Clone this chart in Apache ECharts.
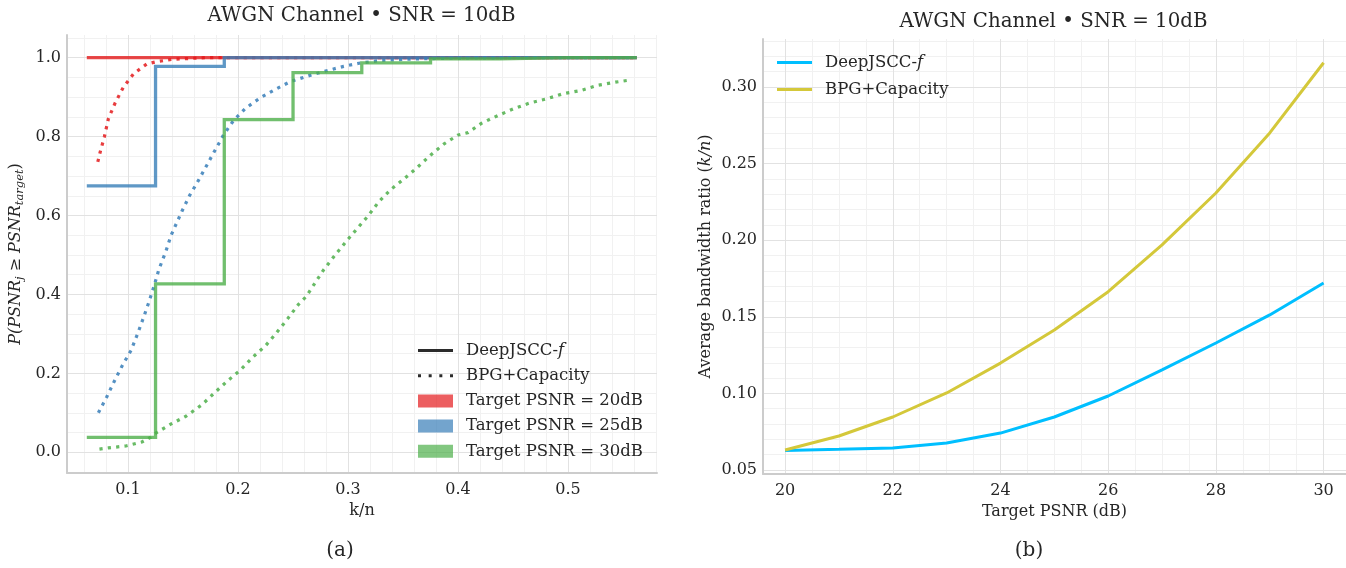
<!DOCTYPE html>
<html><head><meta charset="utf-8">
<script src="https://cdn.jsdelivr.net/npm/echarts@6/dist/echarts.min.js"></script>
<style>html,body{margin:0;padding:0;background:#fff}#c{width:1346px;height:568px}</style>
</head><body><div id="c"></div><script>
// ---------- Data: panel (a) ----------
const stepX = [0.0625, 0.125, 0.1875, 0.25, 0.3125, 0.375, 0.4375, 0.5, 0.5625];
const deep20 = [1, 1, 1, 1, 1, 1, 1, 1, 1];
const deep25 = [0.675, 0.978, 1, 1, 1, 1, 1, 1, 1];
const deep30 = [0.038, 0.427, 0.843, 0.962, 0.987, 0.997, 1, 1, 1];
const bpg20 = [[0.0725,0.736],[0.0745,0.759],[0.0785,0.80],[0.0821,0.845],[0.0882,0.885],[0.0957,0.925],[0.105,0.959],[0.117,0.984],[0.126,0.99],[0.141,0.996],[0.17,1.0],[0.25,1.0],[0.35,1.0],[0.45,1.0],[0.56,1.0]];
const bpg25 = [[0.073,0.10],[0.0806,0.14],[0.0875,0.18],[0.0948,0.22],[0.1027,0.258],[0.1085,0.299],[0.114,0.341],[0.119,0.381],[0.1236,0.421],[0.128,0.463],[0.1345,0.51],[0.139,0.549],[0.149,0.611],[0.156,0.651],[0.164,0.689],[0.1715,0.727],[0.179,0.765],[0.187,0.805],[0.196,0.841],[0.207,0.872],[0.22,0.898],[0.234,0.92],[0.248,0.94],[0.264,0.954],[0.278,0.965],[0.296,0.978],[0.31,0.986],[0.33,0.993],[0.36,0.997],[0.4,0.999],[0.45,1.0],[0.56,1.0]];
const bpg30 = [[0.074,0.008],[0.082,0.011],[0.098,0.016],[0.1125,0.026],[0.12,0.037],[0.126,0.05],[0.14,0.073],[0.153,0.092],[0.167,0.12],[0.178,0.149],[0.19,0.18],[0.202,0.208],[0.213,0.24],[0.225,0.27],[0.235,0.303],[0.245,0.338],[0.255,0.375],[0.262,0.395],[0.269,0.425],[0.278,0.463],[0.288,0.499],[0.3,0.54],[0.3185,0.6],[0.328,0.635],[0.339,0.666],[0.351,0.693],[0.363,0.722],[0.375,0.753],[0.387,0.781],[0.4,0.804],[0.409,0.81],[0.4215,0.834],[0.436,0.853],[0.45,0.87],[0.465,0.885],[0.481,0.896],[0.496,0.909],[0.512,0.917],[0.527,0.93],[0.543,0.938],[0.558,0.944]];
// ---------- Data: panel (b) ----------
const targetPsnr = [20, 21, 22, 23, 24, 25, 26, 27, 28, 29, 30];
const deepBw = [0.0628, 0.0635, 0.0643, 0.0676, 0.0741, 0.0846, 0.0983, 0.1153, 0.1329, 0.1512, 0.1721];
const bpgBw  = [0.0631, 0.0722, 0.0846, 0.1003, 0.1198, 0.1414, 0.1664, 0.1969, 0.2308, 0.2700, 0.3158];
// ---------- Labels ----------
const titleA = 'AWGN Channel \u2022 SNR = 10dB';
const titleB = 'AWGN Channel \u2022 SNR = 10dB';
const targetNames = ['Target PSNR = 20dB', 'Target PSNR = 25dB', 'Target PSNR = 30dB'];

const FONT = 'DejaVu Serif';
const TXT = '#262626';
const COLORS = [[228,26,28],[55,126,184],[77,175,74]];
const rgba = (c, a) => `rgba(${c[0]},${c[1]},${c[2]},${a})`;
const MAJOR = '#e2e2e2', MINOR = '#f1f1f1';

function range(a, b, s) { const out = []; for (let v = a; v <= b + 1e-9; v += s) out.push(+v.toFixed(6)); return out; }
function isMult(v, m) { const r = v / m; return Math.abs(r - Math.round(r)) < 1e-6; }

function gridSeries(xi, xs, ys, color) {
  return {
    type: 'line', xAxisIndex: xi, yAxisIndex: xi, data: [], z: 0, zlevel: 0, silent: true, legendHoverLink: false,
    markLine: {
      z: 0, zlevel: 0,
      silent: true, symbol: ['none', 'none'], animation: false,
      label: { show: false }, emphasis: { disabled: true },
      lineStyle: { color: color, width: 1, type: 'solid' },
      data: xs.map(v => ({ xAxis: v })).concat(ys.map(v => ({ yAxis: v })))
    }
  };
}

// grid line positions (tick positions of each axis)
const aXMaj = range(0.1, 0.5, 0.1), aYMaj = range(0, 1, 0.2);
const aXMin = range(0.06, 0.58, 0.02).filter(v => !isMult(v, 0.1));
const aYMin = range(0.05, 1.05, 0.05).filter(v => !isMult(v, 0.2));
const bXMaj = range(20, 30, 2), bYMaj = range(0.05, 0.30, 0.05);
const bXMin = range(20, 30, 0.5).filter(v => !isMult(v, 2));
const bYMin = range(0.05, 0.33, 0.01).filter(v => !isMult(v, 0.05));

const tickLabel = { color: TXT, fontFamily: FONT, fontSize: 16 };

const series = [
  gridSeries(0, aXMin, aYMin, MINOR),
  gridSeries(0, aXMaj, aYMaj, MAJOR),
  gridSeries(1, bXMin, bYMin, MINOR),
  gridSeries(1, bXMaj, bYMaj, MAJOR)
];
const deepSets = [deep20, deep25, deep30];
const bpgSets = [bpg20, bpg25, bpg30];
for (let i = 0; i < 3; i++) {
  series.push({
    name: 'DeepJSCC-f ' + targetNames[i], type: 'line', xAxisIndex: 0, yAxisIndex: 0, step: 'end', z: 3,
    showSymbol: false, symbol: 'none', silent: true,
    data: stepX.map((x, k) => [x, deepSets[i][k]]),
    itemStyle: { color: rgba(COLORS[i], 0.8) },
    lineStyle: { color: rgba(COLORS[i], 0.8), width: 3.3, cap: 'butt', join: 'miter' }
  });
  series.push({
    name: 'BPG+Capacity ' + targetNames[i], type: 'line', xAxisIndex: 0, yAxisIndex: 0, z: 3,
    showSymbol: false, symbol: 'none', silent: true, smooth: false,
    data: bpgSets[i],
    itemStyle: { color: rgba(COLORS[i], 0.8) },
    lineStyle: { color: rgba(COLORS[i], 0.85), width: 3.2, type: [3.2, 5.2], cap: 'butt' }
  });
}
// legend-only entries for panel (a)
series.push({ name: 'legA_deep', type: 'line', xAxisIndex: 0, yAxisIndex: 0, data: [], symbol: 'none',
  itemStyle: { color: '#2b2b2b' }, lineStyle: { color: '#2b2b2b', width: 3 } });
series.push({ name: 'legA_bpg', type: 'line', xAxisIndex: 0, yAxisIndex: 0, data: [], symbol: 'none',
  itemStyle: { color: '#2b2b2b' }, lineStyle: { color: '#2b2b2b', width: 3 } });
for (let i = 0; i < 3; i++) {
  series.push({ name: targetNames[i], type: 'bar', xAxisIndex: 0, yAxisIndex: 0, data: [],
    itemStyle: { color: rgba(COLORS[i], 0.7) } });
}
// panel (b)
series.push({ name: 'legB_deep', type: 'line', xAxisIndex: 1, yAxisIndex: 1, z: 3, symbol: 'none', showSymbol: false, silent: true,
  data: targetPsnr.map((x, k) => [x, deepBw[k]]),
  itemStyle: { color: '#00bfff' }, lineStyle: { color: '#00bfff', width: 3 } });
series.push({ name: 'legB_bpg', type: 'line', xAxisIndex: 1, yAxisIndex: 1, z: 3, symbol: 'none', showSymbol: false, silent: true,
  data: targetPsnr.map((x, k) => [x, bpgBw[k]]),
  itemStyle: { color: '#d4c83a' }, lineStyle: { color: '#d4c83a', width: 3 } });

function legFmt(name) {
  if (name === 'legA_deep' || name === 'legB_deep') return '{n|DeepJSCC-}{it|f}';
  if (name === 'legA_bpg' || name === 'legB_bpg') return '{n|BPG+Capacity}';
  return '{n|' + name + '}';
}
const LFS = 16.5;
const legRich = {
  n: { fontFamily: FONT, fontSize: LFS, color: TXT, lineHeight: 16 },
  it: { fontFamily: FONT, fontSize: LFS, color: TXT, fontStyle: 'italic', lineHeight: 16 }
};
const ICON_SOLID = 'path://M0,0H35V3H0Z';
const ICON_DOT = 'path://M0,0H3V3H0Z M10.67,0H13.67V3H10.67Z M21.33,0H24.33V3H21.33Z M32,0H35V3H32Z';

const axisLineStyle = { show: true, onZero: false, lineStyle: { color: '#cccccc', width: 2 } };

const option = {
  animation: false,
  backgroundColor: '#ffffff',
  grid: [
    { left: 67, top: 35, width: 590, height: 438, containLabel: false },
    { left: 763, top: 39, width: 583, height: 435, containLabel: false }
  ],
  xAxis: [
    { type: 'value', gridIndex: 0, min: 0.0445, max: 0.5809, z: 1,
      axisLine: axisLineStyle, axisTick: { show: false }, splitLine: { show: false },
      axisLabel: Object.assign({ margin: 9, showMinLabel: false, showMaxLabel: false, formatter: v => v.toFixed(1) }, tickLabel),
      name: 'k/n', nameLocation: 'middle', nameGap: 27,
      nameTextStyle: { fontFamily: FONT, fontSize: 16, color: TXT } },
    { type: 'value', gridIndex: 1, min: 19.59, max: 30.416, z: 1,
      axisLine: axisLineStyle, axisTick: { show: false }, splitLine: { show: false },
      axisLabel: Object.assign({ margin: 9, showMinLabel: false, showMaxLabel: false, formatter: v => String(Math.round(v)) }, tickLabel),
      name: 'Target PSNR (dB)', nameLocation: 'middle', nameGap: 27,
      nameTextStyle: { fontFamily: FONT, fontSize: 16, color: TXT } }
  ],
  yAxis: [
    { type: 'value', gridIndex: 0, min: -0.0525, max: 1.0575, z: 1,
      axisLine: axisLineStyle, axisTick: { show: false }, splitLine: { show: false },
      axisLabel: Object.assign({ margin: 6, showMinLabel: false, showMaxLabel: false, formatter: v => v.toFixed(1) }, tickLabel),
      name: '{i|P(PSNR}{s|j}{u| \u2265 }{i|PSNR}{s|target}{u|)}', nameLocation: 'middle', nameGap: 41, nameRotate: 90,
      nameTextStyle: { fontFamily: FONT, fontSize: 16, color: TXT, rich: {
        i: { fontFamily: FONT, fontSize: 16, fontStyle: 'italic', color: TXT, lineHeight: 21, verticalAlign: 'middle' },
        u: { fontFamily: FONT, fontSize: 16, color: TXT, lineHeight: 21, verticalAlign: 'middle' },
        s: { fontFamily: FONT, fontSize: 11.5, fontStyle: 'italic', color: TXT, lineHeight: 21, verticalAlign: 'bottom', padding: [8, 0, 0, 0] }
      } } },
    { type: 'value', gridIndex: 1, min: 0.0474, max: 0.3313, z: 1,
      axisLine: axisLineStyle, axisTick: { show: false }, splitLine: { show: false },
      axisLabel: Object.assign({ margin: 6, showMinLabel: false, showMaxLabel: false, formatter: v => v.toFixed(2) }, tickLabel),
      name: '{u|Average bandwidth ratio (}{i|k/n}{u|)}', nameLocation: 'middle', nameGap: 49, nameRotate: 90,
      nameTextStyle: { fontFamily: FONT, fontSize: 16, color: TXT, rich: {
        u: { fontFamily: FONT, fontSize: 16, color: TXT },
        i: { fontFamily: FONT, fontSize: 16, fontStyle: 'italic', color: TXT }
      } } }
  ],
  legend: [
    { left: 418, top: 342, orient: 'vertical', padding: 0, itemGap: 8.2, itemWidth: 35, itemHeight: 13,
      selectedMode: false, formatter: legFmt, symbolKeepAspect: true, z: 6,
      textStyle: { fontFamily: FONT, fontSize: LFS, color: TXT, lineHeight: 16, padding: [0, 0, 0, 8], rich: legRich },
      data: [
        { name: 'legA_deep', icon: ICON_SOLID }, { name: 'legA_bpg', icon: ICON_DOT },
        { name: targetNames[0], icon: 'rect' },
        { name: targetNames[1], icon: 'rect' },
        { name: targetNames[2], icon: 'rect' }
      ] },
    { left: 777, top: 54, orient: 'vertical', padding: 0, itemGap: 10, itemWidth: 35, itemHeight: 13,
      selectedMode: false, formatter: legFmt, symbolKeepAspect: true, z: 6,
      textStyle: { fontFamily: FONT, fontSize: LFS, color: TXT, lineHeight: 16, padding: [0, 0, 0, 8], rich: legRich },
      data: [{ name: 'legB_deep', icon: ICON_SOLID }, { name: 'legB_bpg', icon: ICON_SOLID }] }
  ],
  graphic: [
    { type: 'text', x: 361.5, y: 16, silent: true, style: { text: titleA, fill: TXT, font: '19.8px "DejaVu Serif"', textAlign: 'center', textVerticalAlign: 'middle' } },
    { type: 'text', x: 1053.5, y: 22, silent: true, style: { text: titleB, fill: TXT, font: '19.8px "DejaVu Serif"', textAlign: 'center', textVerticalAlign: 'middle' } },
    { type: 'text', x: 340, y: 551, silent: true, style: { text: '(a)', fill: TXT, font: '20px "DejaVu Serif"', textAlign: 'center', textVerticalAlign: 'middle' } },
    { type: 'text', x: 1029, y: 551, silent: true, style: { text: '(b)', fill: TXT, font: '20px "DejaVu Serif"', textAlign: 'center', textVerticalAlign: 'middle' } }
  ],
  series: series
};
const chart = echarts.init(document.getElementById('c'), null, { renderer: 'canvas' });
chart.setOption(option);
</script></body></html>
